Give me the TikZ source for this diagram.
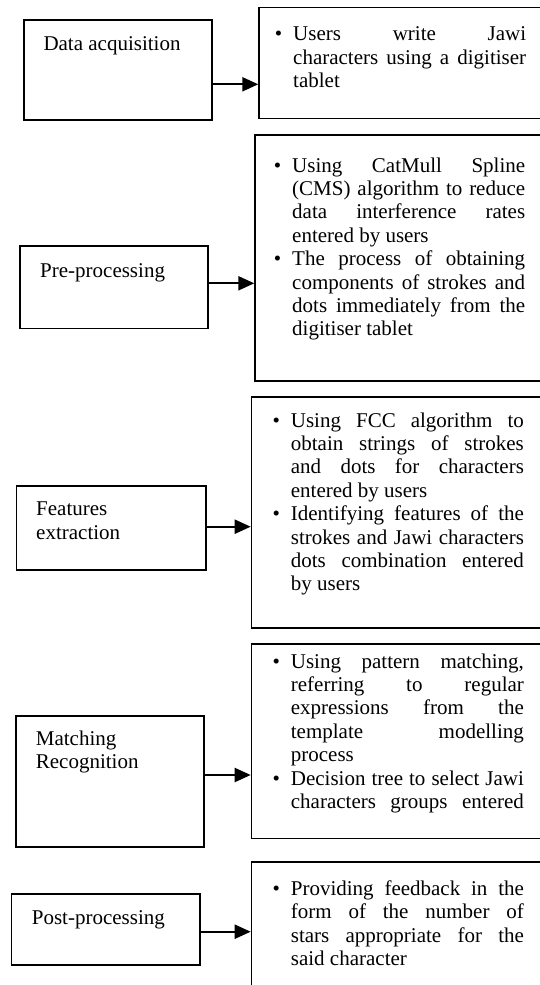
\documentclass[tikz,border=0pt]{standalone}
\usepackage{fontspec}
\setmainfont{Liberation Serif}
\usetikzlibrary{arrows.meta}

\newcommand{\bpar}{\par\noindent\llap{\textbullet\hspace{11pt}}}
\newcommand{\lb}{\linebreak}
\newcommand{\rtext}[1]{\vtop{\hsize=233pt\parindent=0pt\tolerance=10000\hbadness=10000\pretolerance=-1\relax #1\par}}

\begin{document}
\begin{tikzpicture}[x=1pt,y=-1pt,
  box/.style={draw, line width=1.7pt, inner sep=0pt, anchor=north west},
  lbl/.style={anchor=base west, inner sep=0pt, font=\fontsize{21pt}{23.4pt}\selectfont},
  arr/.style={line width=2.1pt, -{Triangle[length=16pt,width=14pt]}},
]
\useasboundingbox (0,0) rectangle (540,985);
\clip (0,0) rectangle (540,985);

% left boxes
\node[box, minimum width=188pt, minimum height=100pt] (l1) at (23.3,19) {};
\node[box, minimum width=188.3pt, minimum height=82.7pt] (l2) at (19,245) {};
\node[box, minimum width=189.6pt, minimum height=84pt] (l3) at (15.7,485.3) {};
\node[box, minimum width=188pt, minimum height=131pt] (l4) at (15,715) {};
\node[box, minimum width=188.6pt, minimum height=71pt] (l5) at (10.7,893) {};

% right boxes (cut by the page edge)
\node[box, minimum width=310pt, minimum height=111pt] (r1) at (258.3,6.7) {};
\node[box, minimum width=310pt, minimum height=246pt] (r2) at (254.3,134) {};
\node[box, minimum width=310pt, minimum height=231.3pt] (r3) at (250.7,396) {};
\node[box, minimum width=310pt, minimum height=194.2pt] (r4) at (250.7,643.3) {};
\node[box, minimum width=310pt, minimum height=150pt] (r5) at (250.7,861) {};

% left labels
\node[lbl] (d1) at (43.3,50) {Data acquisition};
\node[lbl] (d2) at (40,277.3) {Pre-processing};
\node[lbl] (d3) at (36,515.7) {\vtop{\hbox{Features}\hbox{extraction}}};
\node[lbl] (d4) at (35.7,745) {\vtop{\hbox{Matching}\hbox{Recognition}}};
\node[lbl] (d5) at (31.7,924) {Post-processing};

% right texts
\node[lbl] (t1) at (293,40.6) {\rtext{\bpar Users write Jawi\lb characters using a digitiser\lb tablet}};
\node[lbl] (t2) at (292,172) {\rtext{\bpar Using CatMull Spline\lb (CMS) algorithm to reduce\lb data interference rates\lb entered by users
\bpar The process of obtaining\lb components of strokes and\lb dots immediately from the\lb digitiser tablet}};
\node[lbl] (t3) at (290.7,427) {\rtext{\bpar Using FCC algorithm to\lb obtain strings of strokes\lb and dots for characters\lb entered by users
\bpar Identifying features of the\lb strokes and Jawi characters\lb dots combination entered\lb by users}};
\node[lbl] (t4) at (290.7,668) {\rtext{\bpar Using pattern matching,\lb referring to regular\lb expressions from the\lb template modelling\lb process
\bpar Decision tree to select Jawi\lb characters groups entered\parfillskip=0pt}};
\node[lbl] (t5) at (290.7,895.5) {\rtext{\bpar Providing feedback in the\lb form of the number of\lb stars appropriate for the\lb said character}};

% arrows
\coordinate (a1) at (l1.east |- 0,84.3);
\coordinate (a2) at (l2.east |- 0,283.3);
\coordinate (a3) at (l3.east |- 0,526.7);
\coordinate (a4) at (l4.east |- 0,775);
\coordinate (a5) at (l5.east |- 0,931.7);
\draw[arr] (a1) -- (a1 -| r1.west);
\draw[arr] (a2) -- (a2 -| r2.west);
\draw[arr] (a3) -- (a3 -| r3.west);
\draw[arr] (a4) -- (a4 -| r4.west);
\draw[arr] (a5) -- (a5 -| r5.west);
\end{tikzpicture}
\end{document}
